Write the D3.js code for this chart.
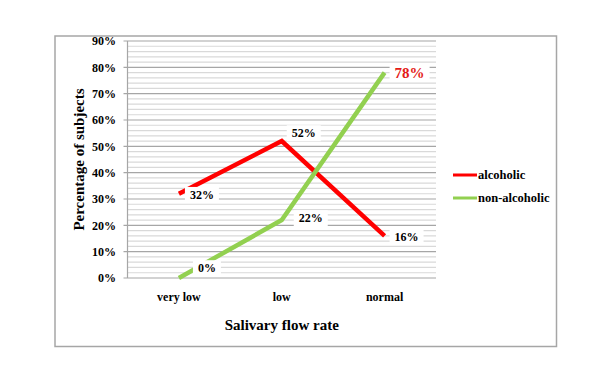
<!DOCTYPE html>
<html><head><meta charset="utf-8">
<script src="https://cdn.jsdelivr.net/npm/d3@7"></script>
<style>body{margin:0;background:#fff}svg{display:block}</style>
</head><body>
<svg id="c" width="606" height="379" font-family="'Liberation Serif', 'Times New Roman', Tinos, 'DejaVu Serif', serif" font-weight="bold"></svg>
<script>
const categories = ["very low", "low", "normal"];
const alcoholic = [32, 52, 16];
const nonAlcoholic = [0, 22, 78];
const yTicks = [0, 10, 20, 30, 40, 50, 60, 70, 80, 90];
const seriesNames = ["alcoholic", "non-alcoholic"];
const seriesColors = ["#ff0000", "#92d050"];

const svg = d3.select("#c");
const L = 127.5, R = 436, T = 41, B = 278;
svg.append("rect").attr("x", 55).attr("y", 36).attr("width", 501.5).attr("height", 310.5)
  .attr("fill", "#fff").attr("stroke", "#a6a6a6").attr("stroke-width", 1.5);

const x = d3.scalePoint().domain(categories).range([L, R]).padding(0.5);
const y = d3.scaleLinear().domain([0, 90]).range([B, T]);

// minor gridlines every 2%
const minor = d3.range(0, 91, 2).filter(v => v % 10 !== 0);
svg.append("g").selectAll("line").data(minor).join("line")
  .attr("x1", L).attr("x2", R).attr("y1", d => y(d)).attr("y2", d => y(d))
  .attr("stroke", "#d9d9d9").attr("stroke-width", 1.2);
// major gridlines
svg.append("g").selectAll("line").data(yTicks).join("line")
  .attr("x1", L - 4).attr("x2", R).attr("y1", d => y(d)).attr("y2", d => y(d))
  .attr("stroke", "#a6a6a6").attr("stroke-width", 1.2);
// y axis line
svg.append("line").attr("x1", L).attr("x2", L).attr("y1", T).attr("y2", B)
  .attr("stroke", "#a6a6a6").attr("stroke-width", 1.2);

// y tick labels
svg.append("g").selectAll("text").data(yTicks).join("text")
  .attr("x", 116).attr("y", d => y(d)).attr("dy", "0.35em").attr("text-anchor", "end")
  .attr("font-size", 12).attr("fill", "#000").text(d => d + "%");

// x category labels
svg.append("g").selectAll("text").data(categories).join("text")
  .attr("x", d => x(d)).attr("y", 301).attr("text-anchor", "middle")
  .attr("font-size", 12).attr("fill", "#000").text(d => d);

// axis titles
svg.append("text").attr("x", (L + R) / 2).attr("y", 330).attr("text-anchor", "middle")
  .attr("font-size", 15).text("Salivary flow rate");
svg.append("text").attr("transform", `translate(84,${(T + B) / 2}) rotate(-90)`)
  .attr("text-anchor", "middle").attr("font-size", 15).text("Percentage of subjects");

// lines
const line = d3.line().x((d, i) => x(categories[i])).y(d => y(d));
[alcoholic, nonAlcoholic].forEach((s, k) => {
  svg.append("path").datum(s).attr("d", line).attr("fill", "none")
    .attr("stroke", seriesColors[k]).attr("stroke-width", 4.5)
    .attr("stroke-linejoin", "miter").attr("stroke-linecap", "butt");
});

// data labels with white boxes
const labels = [
  {s: alcoholic, i: 0, dx: 11, dy: 1, size: 12, color: "#000"},
  {s: alcoholic, i: 1, dx: 10, dy: -8, size: 12, color: "#000"},
  {s: alcoholic, i: 2, dx: 10, dy: 1, size: 12, color: "#000"},
  {s: nonAlcoholic, i: 0, dx: 19, dy: -10, size: 12, color: "#000"},
  {s: nonAlcoholic, i: 1, dx: 17, dy: -2, size: 12, color: "#000"},
  {s: nonAlcoholic, i: 2, dx: 10, dy: 0, size: 15, color: "#e41b17"}
];
labels.forEach(l => {
  const px = x(categories[l.i]) + l.dx, py = y(l.s[l.i]) + l.dy;
  const g = svg.append("g");
  const t = g.append("text").attr("x", px).attr("y", py).attr("dy", "0.35em")
    .attr("font-size", l.size).attr("fill", l.color).text(l.s[l.i] + "%");
  const bb = t.node().getBBox();
  g.insert("rect", "text").attr("x", bb.x - 5).attr("y", bb.y - 1)
    .attr("width", bb.width + 10).attr("height", bb.height + 2).attr("fill", "#fff");
});

// legend
seriesNames.forEach((n, k) => {
  const ly = 175 + k * 23;
  svg.append("line").attr("x1", 453).attr("x2", 477).attr("y1", ly).attr("y2", ly)
    .attr("stroke", seriesColors[k]).attr("stroke-width", 3);
  svg.append("text").attr("x", 478).attr("y", ly).attr("dy", "0.35em")
    .attr("font-size", 12.5).text(n);
});
</script>
</body></html>
